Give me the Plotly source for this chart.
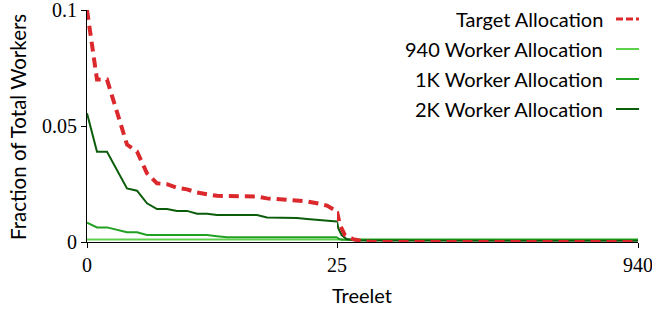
import plotly.graph_objects as go

# ---------------- data ----------------
target_x = [0, 1, 2, 3, 4, 5, 6, 7, 8, 9, 10, 11, 12, 13, 14, 15, 16, 17, 18, 19,
            20, 21, 22, 23, 24, 25, 34, 49, 74, 104, 130, 940]
target_y = [0.100, 0.070, 0.070, 0.056, 0.042, 0.039, 0.0296, 0.0253, 0.0249, 0.0233,
            0.0227, 0.0213, 0.0205, 0.0199, 0.0198, 0.0198, 0.0198, 0.0196, 0.0188, 0.0184,
            0.0182, 0.0180, 0.0175, 0.0167, 0.0157, 0.0132, 0.0073, 0.0030, 0.0012, 0.0003,
            0.0, 0.0]

w940_x = [0, 25, 940]
w940_y = [0.00106, 0.00106, 0.00106]

w1k_x = [0, 1, 2, 3, 4, 5, 6, 7, 8, 9, 10, 11, 12, 13, 14, 25, 30, 40, 940]
w1k_y = [0.0083, 0.0063, 0.0063, 0.0052, 0.0042, 0.0042, 0.0030, 0.0030, 0.0030, 0.0030,
         0.0030, 0.0030, 0.0030, 0.0025, 0.0020, 0.0020, 0.0014, 0.0010, 0.0010]

w2k_x = [0, 1, 2, 3, 4, 5, 6, 7, 8, 9, 10, 11, 12, 13, 14, 15, 16, 17, 18, 19,
         20, 21, 22, 23, 24, 25, 29, 39, 54, 80, 940]
w2k_y = [0.0555, 0.0389, 0.0389, 0.0310, 0.0231, 0.0221, 0.0167, 0.0142, 0.0142, 0.0134,
         0.0134, 0.0122, 0.0122, 0.0116, 0.0116, 0.0116, 0.0116, 0.0116, 0.0106, 0.0106,
         0.0105, 0.0103, 0.0099, 0.0095, 0.0092, 0.0088, 0.0059, 0.0030, 0.0013, 0.0006,
         0.0005]

series_names = ["Target Allocation", "940 Worker Allocation", "1K Worker Allocation",
                "2K Worker Allocation"]

x_break = 25
x_max = 940
x_ticks_head = [0, 25]
x_ticks_tail = [940]
y_ticks = [0, 0.05, 0.1]
y_tick_text = ["0", "0.05", "0.1"]

# ---------------- style ----------------
RED = "#da282d"
LIGHT = "#5fd04e"
MID = "#22a022"
DARK = "#0b5c0b"
SANS = "Lato"
SERIF = "Liberation Serif"

W, H = 652, 309
PL, PR, PT, PB = 87, 638, 10, 242          # plot box in page pixels
ML, MR, MT, MB = PL, W - PR, PT, H - PB
plot_w = PR - PL
plot_h = PB - PT
split = 250 / plot_w


def px_x(px):
    return (px - PL) / plot_w


def px_y(py):
    return (PB - py) / plot_h


fig = go.Figure()


def add_series(xs, ys, color, width, dash):
    head = [(x, y) for x, y in zip(xs, ys) if x <= x_break]
    tail = [(x, y) for x, y in zip(xs, ys) if x >= x_break]
    line = dict(color=color, width=width, dash=dash)
    fig.add_trace(go.Scatter(x=[p[0] for p in head], y=[p[1] for p in head], mode="lines",
                             line=line, xaxis="x", yaxis="y", showlegend=False,
                             hoverinfo="skip"))
    fig.add_trace(go.Scatter(x=[p[0] for p in tail], y=[p[1] for p in tail], mode="lines",
                             line=line, xaxis="x2", yaxis="y", showlegend=False,
                             hoverinfo="skip"))


add_series(w940_x, w940_y, LIGHT, 2, "solid")
add_series(w1k_x, w1k_y, MID, 2, "solid")
add_series(w2k_x, w2k_y, DARK, 2, "solid")
add_series(target_x, target_y, RED, 4, "10px,6px")

axis_common = dict(showgrid=False, zeroline=False, showline=True, linecolor="black",
                   linewidth=1.2, ticks="outside", ticklen=5, tickwidth=1, tickcolor="black",
                   automargin=False, ticklabeloverflow="allow",
                   tickfont=dict(family=SERIF, size=20, color="black"))

fig.update_layout(
    width=W, height=H,
    margin=dict(l=ML, r=MR, t=MT, b=MB, autoexpand=False),
    paper_bgcolor="white", plot_bgcolor="white",
    showlegend=False,
    xaxis=dict(domain=[0, split], range=[0, x_break], tickvals=x_ticks_head,
               ticktext=[str(v) for v in x_ticks_head], anchor="y", **axis_common),
    xaxis2=dict(domain=[split, 1], range=[x_break, x_max], tickvals=x_ticks_tail,
                ticktext=[str(v) for v in x_ticks_tail], anchor="y", **axis_common),
    yaxis=dict(range=[0, 0.1], tickvals=y_ticks, ticktext=y_tick_text, anchor="x",
               **axis_common),
)

# axis titles
fig.add_annotation(text="Treelet", xref="paper", yref="paper", x=px_x(362), y=px_y(295),
                   xanchor="center", yanchor="middle", showarrow=False,
                   font=dict(family=SANS, size=20, color="black"))
fig.add_annotation(text="Fraction of Total Workers", xref="paper", yref="paper",
                   x=px_x(18), y=px_y(127), textangle=-90,
                   xanchor="center", yanchor="middle", showarrow=False,
                   font=dict(family=SANS, size=20.5, color="black"))

# legend: text right-aligned, line sample on the right
leg_colors = [RED, LIGHT, MID, DARK]
leg_widths = [3, 2, 2, 2]
leg_dash = ["7px,3px", "solid", "solid", "solid"]
row_px = [19, 49, 79, 109]
for name, c, w, d, py in zip(series_names, leg_colors, leg_widths, leg_dash, row_px):
    yp = px_y(py)
    fig.add_annotation(text=name, xref="paper", yref="paper", x=px_x(605), y=yp,
                       xanchor="right", yanchor="middle", showarrow=False,
                       font=dict(family=SANS, size=20, color="black"))
    fig.add_shape(type="line", xref="paper", yref="paper",
                  x0=px_x(616), x1=px_x(639), y0=yp, y1=yp,
                  line=dict(color=c, width=w, dash=d))

# remove the browser's default 8px body margin so the figure fills the window
fig.write_html("out.html", config={"displayModeBar": False},
               post_script="document.body.style.margin='0';")
